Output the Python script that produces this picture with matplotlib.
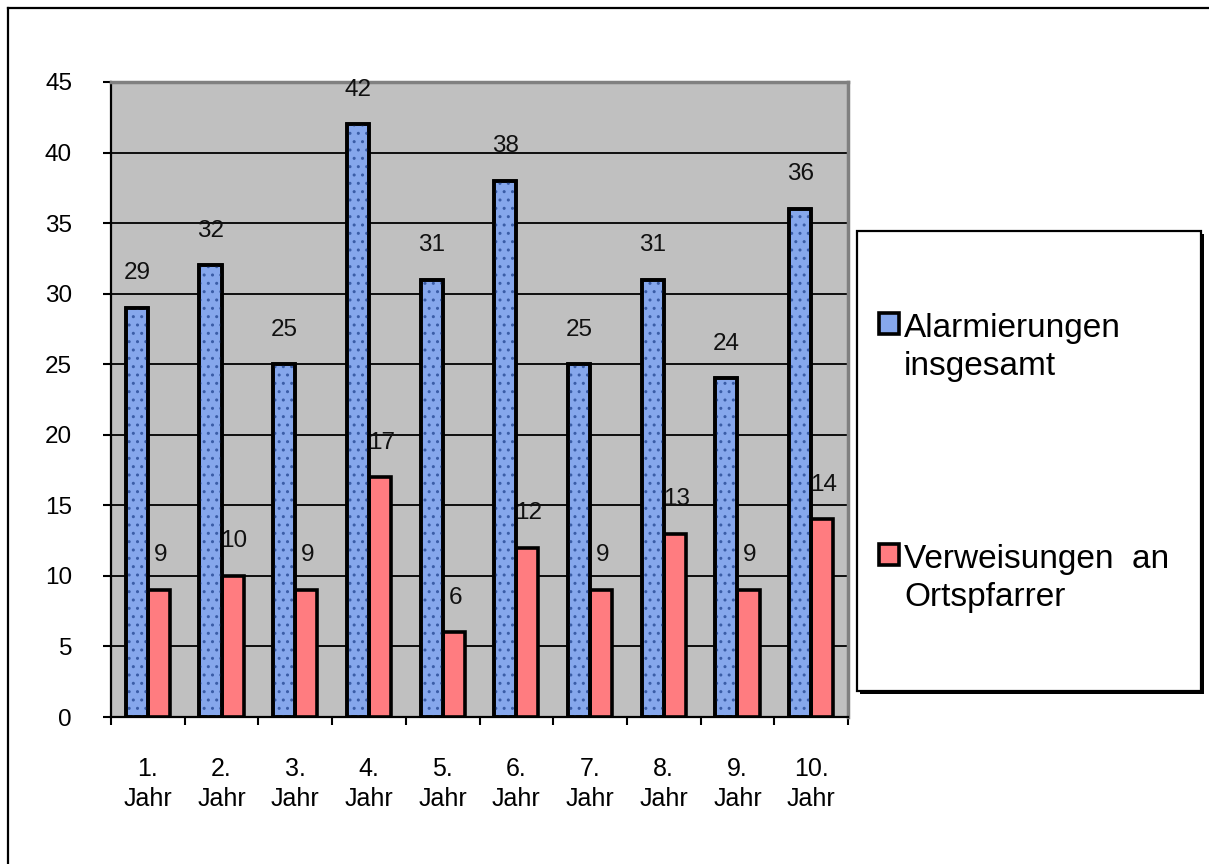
import matplotlib
matplotlib.use("Agg")
import matplotlib.pyplot as plt
from matplotlib.patches import Rectangle
from matplotlib.lines import Line2D
from matplotlib.legend_handler import HandlerPatch
import numpy as np

plt.rcParams['font.family'] = ['Liberation Sans', 'DejaVu Sans']

# Data
years = ["1.\nJahr", "2.\nJahr", "3.\nJahr", "4.\nJahr", "5.\nJahr",
         "6.\nJahr", "7.\nJahr", "8.\nJahr", "9.\nJahr", "10.\nJahr"]
alarmierungen = [29, 32, 25, 42, 31, 38, 25, 31, 24, 36]
verweisungen = [9, 10, 9, 17, 6, 12, 9, 13, 9, 14]
series_names = ["Alarmierungen\ninsgesamt", "Verweisungen  an\nOrtspfarrer"]
yticks = [0, 5, 10, 15, 20, 25, 30, 35, 40, 45]

W, H = 1209, 864
fig = plt.figure(figsize=(W / 100, H / 100), dpi=100)
fig.patch.set_facecolor("white")

def fx(px):
    return px / W

def fy(py):
    return 1 - py / H

# outer chart frame (left and top edges)
fig.add_artist(Line2D([fx(8), fx(8)], [fy(8), 0], color="black", lw=1.6,
                      transform=fig.transFigure))
fig.add_artist(Line2D([fx(8), 1], [fy(8), fy(8)], color="black", lw=1.6,
                      transform=fig.transFigure))

ax = fig.add_axes([fx(111), fy(717), fx(848) - fx(111), fy(82) - fy(717)])
ax.set_facecolor("#c0c0c0")

x = np.arange(len(years))
bw = 0.3
blue_x = x - bw / 2
pink_x = x + bw / 2

blue = ax.bar(blue_x, alarmierungen, width=bw, color="#86a7ec",
              edgecolor="black", linewidth=2.6, zorder=3,
              label=series_names[0])
# dotted texture on the blue bars
ax.bar(blue_x, alarmierungen, width=bw, fill=False, hatch="..",
       edgecolor="#3a5ca6", linewidth=0, zorder=3.1)
ax.bar(blue_x, alarmierungen, width=bw, fill=False,
       edgecolor="black", linewidth=2.6, zorder=3.2)
pink = ax.bar(pink_x, verweisungen, width=bw, color="#ff7c80",
              edgecolor="black", linewidth=2.6, zorder=2.8,
              label=series_names[1])

for xi, v in zip(blue_x, alarmierungen):
    ax.annotate(str(v), (xi, v), xytext=(0, 17), textcoords="offset points",
                ha="center", va="bottom", fontsize=17.5, color="#111111",
                zorder=5)
for xi, v in zip(pink_x, verweisungen):
    ax.annotate(str(v), (xi, v), xytext=(1, 17), textcoords="offset points",
                ha="center", va="bottom", fontsize=17.5, color="#111111",
                zorder=2.9)

ax.set_xlim(-0.5, len(years) - 0.5)
ax.set_ylim(0, 45)
ax.set_yticks(yticks)
ax.set_yticklabels([str(t) for t in yticks], fontsize=17.5)
ax.yaxis.grid(True, color="black", linewidth=1.3, zorder=1)
ax.set_axisbelow(True)

ax.set_xticks(x)
ax.set_xticklabels(years, fontsize=18, linespacing=1.3)
ax.set_xticks(np.arange(-0.5, len(years)), minor=True)
ax.tick_params(axis="x", which="major", length=0, pad=29)
ax.tick_params(axis="x", which="minor", length=6, width=1.5, direction="out")
ax.tick_params(axis="y", length=6, width=1.5, direction="out", pad=22)

for side in ("left", "bottom"):
    ax.spines[side].set_color("black")
    ax.spines[side].set_linewidth(1.6)
for side in ("top", "right"):
    ax.spines[side].set_color("#808080")
    ax.spines[side].set_linewidth(2.5)

# legend box with a drop shadow
fig.add_artist(Rectangle((fx(860), fy(694)), fx(1204) - fx(860),
                         fy(234) - fy(694), transform=fig.transFigure,
                         facecolor="black", edgecolor="none"))
fig.add_artist(Rectangle((fx(857), fy(691)), fx(1201) - fx(857),
                         fy(231) - fy(691), transform=fig.transFigure,
                         facecolor="white", edgecolor="black", linewidth=1.6))


def first_line_square(legend, orig_handle, xdescent, ydescent,
                      width, height, fontsize):
    # key square sits beside the first line of a two-line label
    return Rectangle((-xdescent, -ydescent + 0.72 * fontsize), width, height)


leg = fig.legend(handles=[blue[0], pink[0]], labels=series_names,
                 loc="center left", bbox_to_anchor=(fx(879), fy(463)),
                 frameon=False, fontsize=24, handlelength=0.6,
                 handleheight=0.6, handletextpad=0.15, labelspacing=4.85,
                 borderpad=0, borderaxespad=0,
                 handler_map={Rectangle: HandlerPatch(patch_func=first_line_square)})
for t in leg.get_texts():
    t.set_linespacing(1.3)

fig.savefig("out.png", dpi=100, facecolor="white")
